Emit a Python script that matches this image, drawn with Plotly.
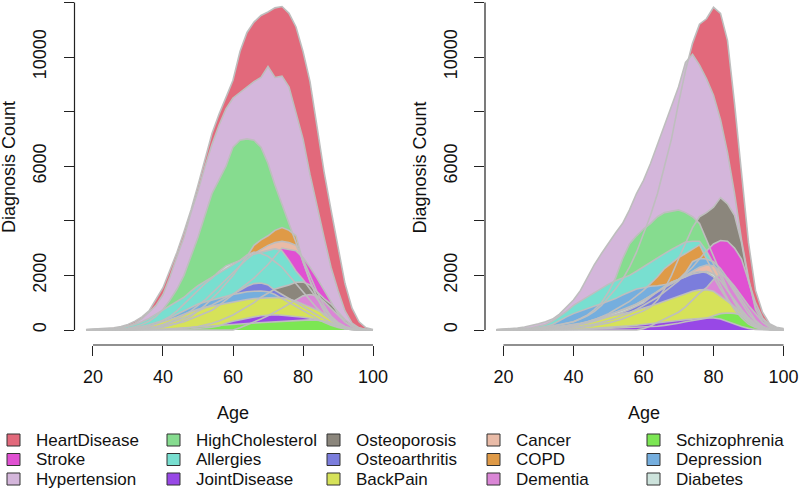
import plotly.graph_objects as go

# ---------------- data ----------------
ages = [18, 20, 22, 24, 26, 28, 30, 32, 34, 36, 38, 40, 42, 44, 46, 48, 50, 52, 54, 56, 58,
        60, 62, 64, 66, 68, 70, 72, 74, 76, 78, 80, 82, 84, 86, 88, 90, 92, 94, 96, 98, 100]

legend_order = ["HeartDisease", "Stroke", "Hypertension", "HighCholesterol", "Allergies",
                "JointDisease", "Osteoporosis", "Osteoarthritis", "BackPain", "Cancer",
                "COPD", "Dementia", "Schizophrenia", "Depression", "Diabetes"]

y_tick_values = [0, 2000, 4000, 6000, 8000, 10000, 12000]
y_tick_labels = ["0", "2000", "", "6000", "", "10000", ""]
x_tick_values = [20, 40, 60, 80, 100]

# left panel
left_heartdisease = [15,25,35,50,80,130,200,320,480,700,1100,1550,2200,2850,3600,4400,5300,6300,7200,7900,8550,9150,10200,10900,11280,11520,11650,11800,11850,11600,11100,10200,9100,7400,5800,4400,3000,1700,800,300,80,20]
left_hypertension = [10,15,25,35,55,90,150,250,420,650,900,1300,1950,2700,3400,4300,5100,6000,6800,7500,8100,8500,8700,8900,9100,9250,9650,9250,9300,8900,7900,7000,5700,4500,3400,2300,1450,700,250,80,20,5]
left_highcholesterol = [2,5,8,15,25,40,70,120,200,320,500,750,1100,1500,2000,2700,3400,4200,5000,5500,6000,6700,6950,7000,6950,6700,6100,5300,4600,3900,3200,2500,1800,1200,700,380,180,70,25,8,2,0]
left_copd = [0,0,2,5,10,15,25,40,55,75,90,100,170,250,370,500,700,900,1150,1400,1700,2000,2350,2700,3100,3300,3450,3650,3750,3650,3450,2500,1800,1200,700,350,150,50,15,5,0,0]
left_cancer = [0,0,3,8,15,25,35,50,65,80,130,200,300,400,550,700,900,1100,1350,1600,1850,2100,2350,2600,2800,2950,3100,3200,3250,3200,3100,2600,2000,1400,900,500,250,100,30,10,0,0]
left_stroke = [0,0,2,4,8,12,20,30,45,60,100,150,190,240,300,400,500,600,720,900,1100,1300,1500,1700,1900,2150,2400,2700,3000,2950,2900,2650,2300,1900,1450,1000,600,300,120,40,10,0]
left_diabetes = [2,4,6,8,12,16,20,40,70,130,220,350,500,700,950,1200,1450,1700,1900,2150,2350,2450,2550,2750,2850,2800,2700,2500,2300,2000,1700,1400,1100,800,550,350,180,80,30,10,3,0]
left_allergies = [5,10,18,30,50,80,130,200,300,420,580,730,880,1030,1200,1420,1620,1780,1930,2100,2250,2400,2520,2700,2780,2850,2930,2980,2900,2550,2150,1850,1500,1150,800,500,280,130,50,15,5,0]
left_osteoporosis = [0,0,0,0,2,3,5,7,10,12,14,15,25,40,60,90,130,180,250,330,430,550,700,850,1000,1200,1350,1500,1580,1650,1750,1760,1650,1400,1150,950,650,380,180,70,20,5]
left_osteoarthritis = [0,0,0,2,4,6,8,15,30,60,110,180,260,350,450,560,700,800,920,1050,1200,1320,1450,1600,1700,1720,1650,1450,1300,1150,1000,850,700,550,400,260,140,60,20,5,0,0]
left_depression = [0,3,5,10,18,30,50,80,130,190,260,350,450,570,700,830,950,1030,1100,1180,1250,1300,1350,1400,1420,1430,1400,1300,1150,1000,850,700,550,400,280,170,90,40,15,5,0,0]
left_dementia = [0,0,0,0,0,0,0,0,0,0,0,0,0,0,0,0,0,0,0,0,0,0,80,180,280,400,520,650,800,950,1100,1250,1300,1250,1050,800,550,300,130,50,15,3]
left_backpain = [0,2,4,8,15,25,40,65,100,150,220,300,380,480,580,680,760,830,880,930,980,1030,1080,1120,1150,1170,1180,1190,1180,1130,1050,950,850,730,600,420,250,120,45,15,5,0]
left_jointdisease = [0,0,0,0,0,0,2,3,5,6,8,10,12,18,25,35,50,70,100,150,250,320,380,430,480,520,550,560,540,520,500,470,430,380,300,200,120,60,20,5,0,0]
left_schizophrenia = [0,0,0,0,0,0,5,10,15,20,25,30,45,60,75,90,105,120,140,160,180,200,220,240,255,270,285,300,315,330,345,360,370,360,320,250,150,70,25,8,2,0]

# right panel
right_heartdisease = [10,15,20,30,45,60,80,110,150,200,250,300,400,520,680,900,1200,1500,1850,2300,2850,3500,4200,5000,6000,7000,8300,9500,10500,11200,11400,11820,11600,10600,8300,5800,3200,1450,650,230,100,50]
right_hypertension = [20,30,50,70,110,160,230,300,400,580,830,1100,1450,1950,2400,2800,3200,3550,3900,4400,5000,5480,6100,6800,7500,8200,8900,9800,10100,9700,9200,8600,7700,6500,5000,3300,1900,750,300,100,40,20]
right_osteoporosis = [0,0,0,2,5,10,15,20,30,40,55,70,90,120,160,200,260,330,400,500,600,700,850,1100,1500,2000,2600,3200,3750,4150,4300,4500,4850,4620,4200,3200,1800,850,400,150,50,20]
right_highcholesterol = [0,2,5,10,20,35,60,90,130,180,240,300,420,550,750,1000,1400,1900,2600,3150,3450,3700,3900,4150,4300,4350,4400,4300,4150,3900,3300,2700,2100,1500,1000,600,300,120,40,10,2,0]
right_stroke = [0,0,0,3,5,10,15,25,35,50,70,100,130,170,220,280,350,430,520,620,750,900,1050,1200,1400,1600,1800,2050,2300,2600,2900,3150,3280,3250,3000,2600,1800,1000,450,180,60,25]
right_allergies = [5,10,20,30,50,80,130,200,330,500,680,900,1060,1200,1350,1520,1680,1800,1900,2000,2150,2320,2480,2650,2800,2950,3100,3220,3250,3250,2900,2400,1900,1450,1050,700,400,200,80,25,8,2]
right_copd = [0,0,0,2,5,10,20,35,55,80,120,170,230,300,380,480,600,750,900,1050,1250,1450,1700,1950,2250,2450,2650,2800,2950,3120,2600,2100,1600,1150,750,450,220,90,30,10,2,0]
right_depression = [3,5,8,15,25,40,70,120,200,350,480,600,700,800,880,960,1050,1150,1280,1400,1500,1550,1600,1620,1650,1700,1850,2100,2500,2620,2600,2500,2250,1900,1500,1100,700,350,130,40,10,3]
right_cancer = [0,0,2,5,10,20,35,50,70,100,120,150,220,300,370,450,550,650,750,850,950,1100,1250,1400,1550,1700,1850,2000,2150,2300,2380,2350,2150,1800,1400,1000,600,300,120,40,10,3]
right_diabetes = [2,4,8,15,25,40,60,80,110,140,170,200,250,300,380,470,560,640,720,820,950,1080,1250,1420,1600,1750,1850,1950,2050,2100,2150,2050,1800,1450,1100,750,450,220,90,30,10,3]
right_osteoarthritis = [0,0,0,2,5,10,15,25,40,60,100,150,200,250,320,400,480,550,650,750,870,1000,1200,1400,1600,1750,1850,1950,2100,2150,2100,1950,1500,1100,800,520,300,130,50,15,5,0]
right_dementia = [0,0,0,0,0,0,0,0,0,0,0,0,0,0,0,0,0,0,0,0,0,50,150,280,400,520,650,850,1100,1350,1550,1850,2050,1900,1600,1250,900,600,300,120,40,15]
right_backpain = [0,2,4,7,10,15,20,30,60,90,120,160,200,260,350,430,500,560,600,650,720,800,880,960,1050,1150,1250,1330,1420,1470,1480,1420,1250,1050,850,650,350,150,50,15,5,0]
right_schizophrenia = [0,0,0,2,3,5,7,10,12,15,18,20,25,30,40,50,60,70,80,90,95,100,120,140,170,200,250,300,340,380,430,520,600,620,610,550,400,200,70,20,5,0]
right_jointdisease = [0,0,0,0,0,2,4,6,8,10,15,20,25,40,55,70,85,100,120,150,175,200,225,250,285,320,350,380,410,420,440,440,400,320,220,130,60,20,5,0,0,0]

left_values = {
    "HeartDisease": left_heartdisease, "Hypertension": left_hypertension,
    "HighCholesterol": left_highcholesterol, "COPD": left_copd, "Cancer": left_cancer,
    "Stroke": left_stroke, "Diabetes": left_diabetes, "Allergies": left_allergies,
    "Osteoporosis": left_osteoporosis, "Osteoarthritis": left_osteoarthritis,
    "Depression": left_depression, "Dementia": left_dementia, "BackPain": left_backpain,
    "JointDisease": left_jointdisease, "Schizophrenia": left_schizophrenia,
}
right_values = {
    "HeartDisease": right_heartdisease, "Hypertension": right_hypertension,
    "Osteoporosis": right_osteoporosis, "HighCholesterol": right_highcholesterol,
    "Stroke": right_stroke, "Allergies": right_allergies, "COPD": right_copd,
    "Depression": right_depression, "Cancer": right_cancer, "Diabetes": right_diabetes,
    "Osteoarthritis": right_osteoarthritis, "Dementia": right_dementia,
    "BackPain": right_backpain, "Schizophrenia": right_schizophrenia,
    "JointDisease": right_jointdisease,
}
# drawing order (back to front)
left_draw = ["HeartDisease", "Hypertension", "HighCholesterol", "COPD", "Cancer", "Stroke",
             "Diabetes", "Allergies", "Osteoporosis", "Osteoarthritis", "Depression",
             "Dementia", "BackPain", "JointDisease", "Schizophrenia"]
right_draw = ["HeartDisease", "Hypertension", "Osteoporosis", "HighCholesterol", "Stroke",
              "Allergies", "COPD", "Depression", "Cancer", "Diabetes", "Osteoarthritis",
              "Dementia", "BackPain", "Schizophrenia", "JointDisease"]

colors = {
    "HeartDisease": "#E2697B", "Stroke": "#E050D2", "Hypertension": "#D4B6DB",
    "HighCholesterol": "#86DC8F", "Allergies": "#78DFD0", "JointDisease": "#9848E6",
    "Osteoporosis": "#8B867C", "Osteoarthritis": "#7B7DDC", "BackPain": "#D6E259",
    "Cancer": "#E9BBA7", "COPD": "#DF9A47", "Dementia": "#DA86D6",
    "Schizophrenia": "#7CE653", "Depression": "#75AEDE", "Diabetes": "#CDE3DC",
}

FONT = "Liberation Sans, Arial, Helvetica, sans-serif"
W, H = 800, 490
OUTLINE = "#BEBEBE"

fig = go.Figure()

panels = [("x", "y", left_values, left_draw), ("x2", "y2", right_values, right_draw)]
for xa, ya, vals, order in panels:
    for name in order:
        fig.add_trace(go.Scatter(x=ages, y=vals[name], xaxis=xa, yaxis=ya, mode="lines",
                                 fill="tozeroy", fillcolor=colors[name],
                                 line=dict(width=0, color=colors[name]),
                                 showlegend=False, hoverinfo="skip", name=name))
    for name in order:
        fig.add_trace(go.Scatter(x=ages, y=vals[name], xaxis=xa, yaxis=ya, mode="lines",
                                 line=dict(width=1.6, color=OUTLINE),
                                 showlegend=False, hoverinfo="skip", name=name))

# pixel geometry
x_range = [14.72, 103.28]
y_range = [-549.5, 12088]
y_dom = [1 - 345 / H, 1]
left_dom = [74.5 / W, 384.5 / W]
right_dom = [485 / W, 795 / W]

axis_common = dict(showgrid=False, zeroline=False, showline=False, ticks="outside",
                   ticklen=10, tickwidth=1, tickcolor="#222", automargin=False,
                   tickfont=dict(family=FONT, size=18, color="#111"))
xa_common = dict(axis_common, range=x_range, tickvals=x_tick_values, ticklabelstandoff=5)
ya_common = dict(axis_common, range=y_range, domain=y_dom, tickvals=y_tick_values,
                 ticktext=y_tick_labels, tickangle=-90, ticklabelstandoff=10)

fig.update_layout(
    width=W, height=H, margin=dict(l=0, r=0, t=0, b=0, autoexpand=False),
    paper_bgcolor="white", plot_bgcolor="white",
    font=dict(family=FONT, size=18, color="#111"),
    xaxis=dict(xa_common, domain=left_dom, anchor="y"),
    yaxis=dict(ya_common, anchor="x"),
    xaxis2=dict(xa_common, domain=right_dom, anchor="y2"),
    yaxis2=dict(ya_common, anchor="x2"),
)

shapes = []
annotations = []
for xa, ya, dom in [("x", "y", left_dom), ("x2", "y2", right_dom)]:
    shapes.append(dict(type="line", xref=xa, yref=ya + " domain", x0=20, x1=100, y0=0, y1=0,
                       line=dict(color="#222", width=1.2)))
    shapes.append(dict(type="line", xref=xa + " domain", yref=ya, x0=0, x1=0, y0=0, y1=12000,
                       line=dict(color="#222", width=1.2)))
    annotations.append(dict(text="Age", xref=xa, yref="paper", x=60, y=1 - 413 / H,
                            showarrow=False, xanchor="center", yanchor="middle",
                            font=dict(family=FONT, size=18, color="#111")))
    annotations.append(dict(text="Diagnosis Count", xref="paper", yref="paper",
                            x=(dom[0] * W - 65.5) / W, y=1 - 167 / H, textangle=-90,
                            showarrow=False, xanchor="center", yanchor="middle",
                            font=dict(family=FONT, size=18, color="#111")))

# legend (column-major, 5 columns x 3 rows)
row_y = [440, 459.5, 479]
for i, name in enumerate(legend_order):
    col, row = divmod(i, 3)
    left = 7 + 160 * col
    cy = row_y[row]
    shapes.append(dict(type="rect", xref="paper", yref="paper",
                       x0=left / W, x1=(left + 13) / W,
                       y0=1 - (cy + 6) / H, y1=1 - (cy - 6) / H,
                       fillcolor=colors[name], line=dict(color="#333", width=1)))
    annotations.append(dict(text=name, xref="paper", yref="paper",
                            x=(left + 26.5) / W, y=1 - cy / H, showarrow=False,
                            xanchor="left", yanchor="middle",
                            font=dict(family=FONT, size=17, color="#111")))

fig.update_layout(shapes=shapes, annotations=annotations)
fig.write_html("out.html", config={"displayModeBar": False, "staticPlot": True},
               post_script="document.body.style.margin='0';document.body.style.padding='0';")
